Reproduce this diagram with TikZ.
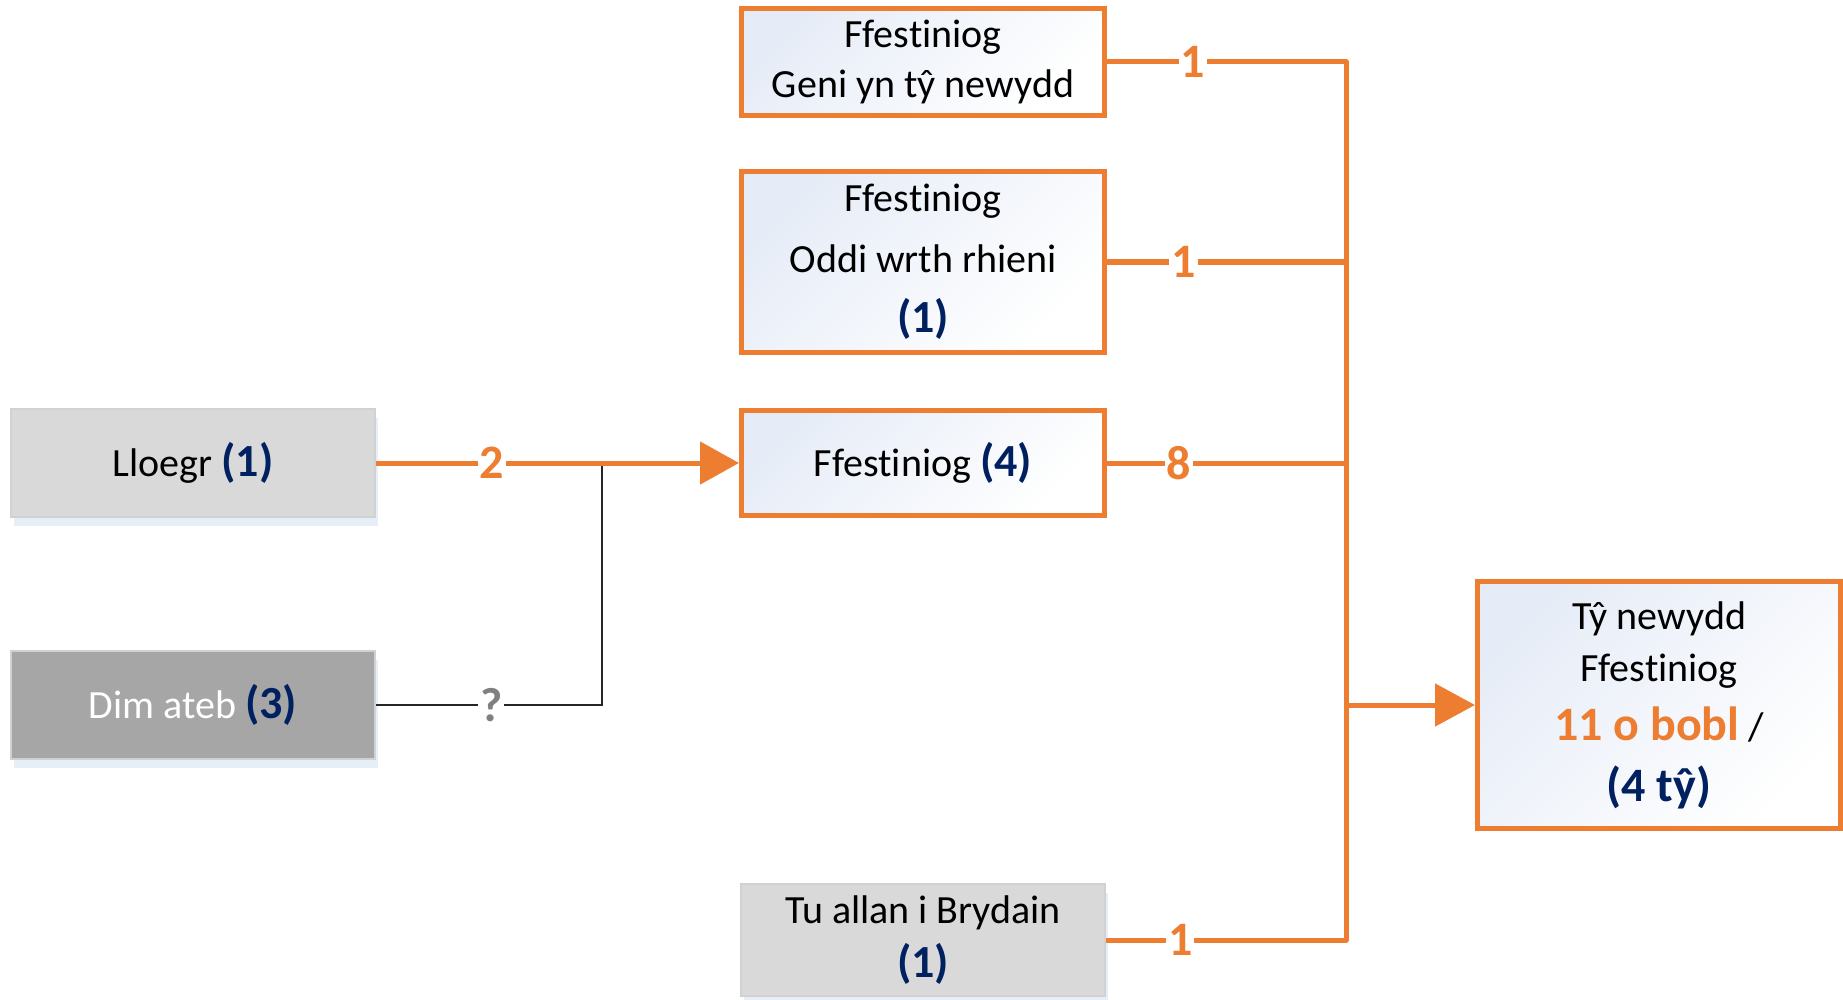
\documentclass[tikz,border=0pt]{standalone}
\usepackage{fontspec}
\setmainfont{Carlito}[Ligatures={NoCommon,NoContextual}]
\usetikzlibrary{arrows.meta,shadows}

\definecolor{flowcol}{HTML}{ED7D31}
\definecolor{navy}{HTML}{002060}
\definecolor{lightgrey}{HTML}{D9D9D9}
\definecolor{midgrey}{HTML}{A6A6A6}
\definecolor{paleblue}{HTML}{E6ECF7}
\definecolor{glow}{HTML}{D6E2F3}

\newcommand{\navynum}[1]{{\bfseries\color{navy}\fontsize{46}{50}\selectfont #1}}

\tikzset{
	orangebox/.style={draw=flowcol, line width=5pt, top color=paleblue, bottom color=white,
		shading angle=45, minimum width=363pt, align=center, inner sep=0pt,
		font=\fontsize{40}{48}\selectfont},
	greybox/.style={draw=black!18, line width=1.5pt, fill=lightgrey, minimum width=364pt,
		minimum height=108pt, align=center, inner sep=0pt, font=\fontsize{40}{48}\selectfont,
		drop shadow={shadow xshift=3pt, shadow yshift=-9pt, fill=glow, opacity=0.6}},
	flow/.style={draw=flowcol, line width=5pt},
	noanswer/.style={draw=black!85, line width=1.5pt},
	count/.style={fill=white, text=flowcol, inner sep=2pt, font=\bfseries\fontsize{48}{50}\selectfont},
	qmark/.style={count, text=black!50},
}

\begin{document}
\begin{tikzpicture}[x=1pt,y=-1pt]
	\useasboundingbox (0,0) rectangle (1843,1000);

	% where people came from
	\node[greybox] (lloegr) at (193,463) {Lloegr \navynum{(1)}};
	\node[greybox, fill=midgrey, text=white] (dimateb) at (193,705) {Dim ateb \navynum{(3)}};

	\node[orangebox, minimum height=107pt] (geni) at (923,62) {Ffestiniog\\[2pt]Geni yn tŷ newydd};
	\node[orangebox, minimum height=180pt] (oddi) at (923,262) {Ffestiniog\\[13pt]Oddi wrth rhieni\\[12pt]\navynum{(1)}};
	\node[orangebox, minimum height=105pt] (ffest) at (923,463) {Ffestiniog \navynum{(4)}};
	\node[greybox, minimum height=112pt] (tuallan) at (923,940) {Tu allan i Brydain\\[6pt]\navynum{(1)}};

	\node[orangebox, minimum height=247pt] (tynewydd) at (1659,705) {Tŷ newydd\\[4pt]Ffestiniog\\[11pt]
		{\color{flowcol}\bfseries\fontsize{48}{56}\selectfont 11 o bobl} /\\[13pt]
		{\color{navy}\bfseries\fontsize{48}{56}\selectfont (4 tŷ)}};

	\coordinate (bus) at (1346,0);
	\coordinate (join) at (602,0);

	% connectors
	\draw[noanswer] (dimateb.east) -- node[qmark, pos=0.51]{?} (dimateb.east -| join) -- (join |- ffest.west);
	\draw[flow,-{Triangle[length=39pt,width=42pt]}] (lloegr.east) -- node[count, pos=0.32]{2} (ffest.west);

	\draw[flow, line join=round] (geni.east) -- node[count, pos=0.36]{1} (geni.east -| bus)
		-- (tuallan.east -| bus) -- node[count, pos=0.69]{1} (tuallan.east);
	\draw[flow] (oddi.east) -- node[count, pos=0.32]{1} (oddi.east -| bus);
	\draw[flow] (ffest.east) -- node[count, pos=0.3]{8} (ffest.east -| bus);
	\draw[flow,-{Triangle[length=40pt,width=42pt]}] (tynewydd.west -| bus) -- (tynewydd.west);
\end{tikzpicture}
\end{document}
